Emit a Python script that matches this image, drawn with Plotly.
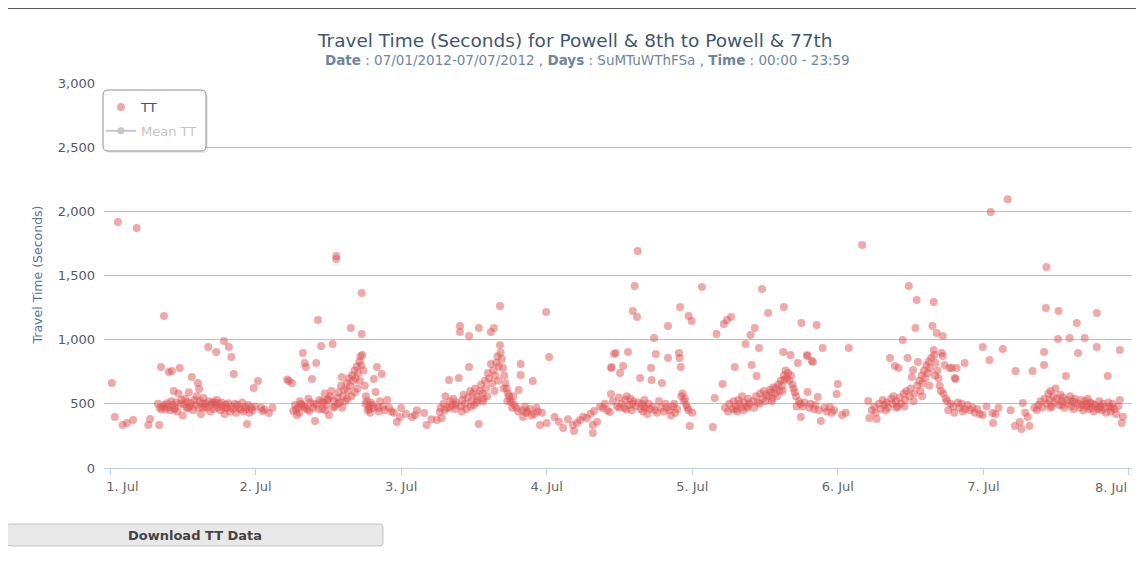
import pandas as pd
import plotly.graph_objects as go

# (hours after 1 Jul 2012 00:00, travel time in seconds)
jul1 = [
    (0.3, 662), (0.8, 397), (1.3, 1916), (2.1, 335), (2.8, 350), (3.8, 374), (4.4, 1870),
    (6.3, 335), (6.6, 382), (8.1, 335), (8.4, 787), (8.9, 1184), (9.7, 748), (10.2, 756),
    (11.5, 779), (13.5, 709), (14.5, 662), (14.7, 615), (16.2, 943), (17.5, 904),
    (18.8, 990), (19.6, 943), (20.0, 865), (20.4, 732), (22.6, 343), (23.7, 623),
    (7.9, 500), (8.2, 470), (8.5, 455), (8.7, 480), (9.0, 490), (9.2, 460), (9.4, 505),
    (9.6, 475), (9.9, 450), (10.1, 520), (10.3, 490), (10.5, 600), (10.7, 470), (10.9, 510),
    (11.1, 440), (11.3, 580), (11.6, 500), (11.8, 530), (12.0, 410), (12.2, 495), (12.4, 540),
    (12.6, 470), (12.8, 515), (13.0, 590), (13.2, 480), (13.4, 505), (13.7, 450), (13.9, 530),
    (14.1, 490), (14.3, 560), (14.6, 470), (14.8, 520), (15.0, 420), (15.2, 505), (15.4, 545),
    (15.6, 480), (15.8, 500), (16.0, 470), (16.3, 520), (16.5, 440), (16.7, 495), (16.9, 510),
    (17.1, 460), (17.4, 490), (17.6, 530), (17.8, 470), (18.0, 500), (18.2, 450), (18.4, 510),
    (18.6, 480), (18.9, 420), (19.1, 495), (19.3, 470), (19.5, 505), (19.8, 440), (20.1, 480),
    (20.3, 460), (20.6, 500), (20.8, 430), (21.0, 490), (21.3, 470), (21.5, 455), (21.8, 510),
    (22.0, 440), (22.3, 475), (22.5, 460), (22.8, 490), (23.0, 430), (23.3, 470), (23.5, 450),
    (23.9, 480), (10.6, 455), (12.9, 465), (15.3, 470), (17.2, 515), (19.0, 465),
]

jul2 = [
    (24.4, 678), (24.9, 470), (25.1, 444), (25.5, 455), (26.2, 428), (26.8, 470),
    (29.2, 690), (29.5, 678), (30.0, 662), (30.2, 444), (30.5, 491), (30.8, 413), (31.0, 470),
    (31.3, 520), (31.5, 500), (31.8, 896), (32.0, 480), (32.1, 818), (32.3, 787), (32.5, 455),
    (32.7, 540), (33.0, 510), (33.3, 693), (33.5, 470), (33.8, 366), (34.0, 818), (34.1, 495),
    (34.3, 1153), (34.5, 530), (34.8, 950), (35.0, 460), (35.2, 510), (35.4, 580), (35.6, 490),
    (35.8, 530), (36.1, 413), (36.3, 560), (36.5, 600), (36.7, 966), (36.9, 520), (37.1, 480),
    (37.3, 1651), (37.3, 1628), (37.5, 550), (37.7, 590), (37.9, 510), (38.1, 640), (38.2, 709),
    (38.4, 560), (38.6, 610), (38.8, 520), (39.0, 660), (39.2, 600), (39.4, 700), (39.6, 640),
    (39.7, 1090), (39.9, 720), (40.1, 680), (40.3, 760), (40.5, 700), (40.7, 790), (40.9, 740),
    (41.1, 830), (41.3, 870), (41.4, 800), (41.5, 1363), (41.5, 1044), (41.6, 880), (41.8, 760),
    (42.0, 640), (42.2, 560), (42.4, 520), (42.6, 480), (42.8, 460), (43.0, 510), (43.3, 490),
    (43.5, 693), (43.8, 592), (44.0, 787), (44.2, 470), (44.5, 520), (44.8, 732), (45.0, 480),
    (45.3, 450), (45.7, 530), (46.0, 470), (46.4, 440), (46.8, 430), (47.3, 358), (47.8, 397),
    (48.0, 467), (30.7, 455), (31.2, 430), (31.7, 490), (32.2, 470), (32.9, 445), (33.6, 500),
    (34.4, 460), (34.9, 520), (35.5, 450), (36.0, 540), (36.8, 470), (37.6, 500), (38.3, 470),
    (39.1, 540), (39.8, 560), (40.4, 590), (40.8, 620), (41.2, 680), (42.1, 500), (42.5, 450),
    (42.9, 430), (43.6, 470), (44.3, 440),
]

jul3 = [
    (48.8, 420), (49.8, 397), (50.3, 413), (50.6, 450), (51.8, 428), (52.2, 335), (53.0, 380),
    (53.9, 374), (54.4, 436), (54.5, 470), (54.7, 390), (55.0, 500), (55.3, 560), (55.6, 470),
    (55.9, 685), (56.1, 520), (56.4, 490), (56.6, 540), (56.9, 460), (57.1, 510), (57.5, 701),
    (57.7, 1106), (57.7, 1060), (57.9, 480), (58.1, 530), (58.3, 570), (58.5, 500), (58.8, 460),
    (59.0, 550), (59.2, 1028), (59.2, 787), (59.4, 600), (59.6, 520), (59.8, 580), (60.0, 490),
    (60.2, 620), (60.4, 560), (60.6, 530), (60.8, 1090), (60.8, 343), (61.0, 600), (61.2, 650),
    (61.4, 580), (61.6, 540), (61.8, 680), (62.0, 620), (62.3, 740), (62.5, 700), (62.8, 810),
    (62.8, 1060), (63.0, 660), (63.2, 760), (63.3, 1090), (63.5, 720), (63.7, 820), (63.9, 870),
    (64.1, 790), (64.3, 958), (64.3, 1262), (64.4, 900), (64.6, 850), (64.8, 780), (65.0, 720),
    (65.2, 660), (65.4, 620), (65.6, 580), (65.8, 560), (66.0, 530), (66.2, 510), (66.5, 560),
    (66.7, 490), (67.0, 470), (67.4, 608), (67.7, 810), (67.7, 724), (68.0, 450), (68.1, 397),
    (68.4, 480), (68.8, 440), (69.2, 460), (69.7, 678), (69.9, 420), (70.3, 470), (70.9, 335),
    (71.2, 430), (71.9, 1215), (72.0, 350), (55.2, 450), (56.0, 470), (57.0, 490), (58.0, 440),
    (59.5, 480), (60.5, 510), (61.5, 520), (62.2, 560), (63.4, 600), (64.0, 680), (64.9, 620),
    (65.5, 520), (66.3, 470), (67.3, 440), (68.6, 430), (69.5, 410), (70.5, 440),
]

jul4 = [
    (72.4, 865), (73.3, 397), (74.0, 360), (74.7, 312), (75.5, 380), (76.3, 335), (76.5, 288),
    (77.0, 350), (77.5, 374), (78.0, 400), (78.6, 390), (79.2, 420), (79.6, 335), (79.6, 273),
    (79.8, 444), (80.3, 358), (80.8, 480), (81.3, 467), (81.6, 500), (82.0, 450), (82.4, 436),
    (82.6, 779), (82.6, 576), (82.7, 787), (82.9, 520), (83.1, 888), (83.4, 896), (83.6, 480),
    (83.9, 550), (84.1, 740), (84.3, 500), (84.6, 795), (84.8, 470), (85.0, 530), (85.2, 560),
    (85.4, 903), (85.6, 490), (85.8, 540), (86.0, 450), (86.2, 1223), (86.3, 520), (86.5, 1418),
    (86.7, 480), (86.9, 1176), (87.0, 1690), (87.1, 510), (87.4, 701), (87.5, 460), (87.7, 500),
    (87.9, 440), (88.1, 530), (88.3, 470), (88.6, 420), (88.8, 500), (89.0, 460), (89.2, 779),
    (89.3, 685), (89.5, 480), (89.7, 1013), (90.0, 888), (90.2, 430), (90.5, 520), (90.8, 470),
    (91.0, 662), (91.3, 440), (91.6, 500), (92.0, 1106), (92.0, 857), (92.2, 450), (92.5, 410),
    (92.8, 480), (93.2, 430), (93.5, 460), (93.8, 896), (93.9, 857), (94.0, 1254), (94.1, 787),
    (94.2, 560), (94.4, 580), (94.6, 520), (94.8, 540), (95.0, 490), (95.2, 470), (95.4, 1184),
    (95.4, 450), (95.6, 327), (95.9, 1145), (96.0, 430), (84.0, 470), (85.1, 455), (86.1, 500),
    (88.0, 480), (89.8, 450), (91.8, 470), (93.0, 500),
]

jul5 = [
    (97.6, 1410), (99.4, 319), (99.7, 545), (100.0, 1044), (101.0, 654), (101.2, 1122),
    (101.4, 470), (101.7, 1153), (101.9, 440), (102.1, 500), (102.4, 1176), (102.6, 460),
    (102.8, 520), (103.0, 787), (103.2, 480), (103.4, 440), (103.6, 530), (103.8, 500),
    (104.0, 470), (104.2, 560), (104.4, 450), (104.6, 510), (104.8, 966), (105.0, 480),
    (105.2, 540), (105.4, 500), (105.6, 1036), (105.8, 802), (106.0, 520), (106.2, 470),
    (106.3, 1090), (106.5, 560), (106.6, 717), (106.8, 510), (107.0, 935), (107.2, 580),
    (107.5, 1394), (107.6, 540), (107.8, 600), (108.0, 520), (108.2, 570), (108.5, 1207),
    (108.6, 560), (108.8, 610), (109.0, 590), (109.2, 540), (109.4, 630), (109.6, 580),
    (109.8, 620), (110.0, 560), (110.2, 650), (110.4, 600), (110.6, 680), (110.8, 640),
    (111.0, 904), (111.1, 1254), (111.1, 720), (111.2, 690), (111.4, 760), (111.6, 700),
    (111.8, 740), (112.0, 680), (112.2, 880), (112.3, 720), (112.5, 650), (112.7, 620),
    (112.9, 590), (113.1, 560), (113.4, 818), (113.6, 520), (113.8, 500), (113.9, 397),
    (114.0, 1130), (114.2, 480), (114.5, 510), (114.9, 880), (115.0, 872), (115.0, 592),
    (115.3, 470), (115.5, 500), (115.7, 833), (115.9, 826), (116.1, 460), (116.3, 490),
    (116.5, 1114), (116.7, 553), (116.9, 450), (117.2, 366), (117.5, 935), (117.8, 470),
    (118.2, 440), (118.7, 475), (119.0, 430), (119.4, 450), (119.8, 576), (120.0, 654),
    (103.1, 455), (105.1, 470), (107.1, 500), (109.1, 520), (110.9, 600), (113.2, 480),
]

jul6 = [
    (120.7, 413), (121.3, 430), (121.8, 935), (124.0, 1737), (125.0, 522), (125.2, 390),
    (125.6, 450), (126.0, 480), (126.4, 382), (126.8, 500), (127.1, 460), (127.4, 530),
    (127.7, 490), (128.0, 510), (128.3, 470), (128.6, 857), (128.8, 540), (129.0, 500),
    (129.2, 560), (129.4, 795), (129.6, 520), (129.8, 480), (130.0, 779), (130.2, 550),
    (130.4, 500), (130.7, 997), (130.9, 580), (131.1, 530), (131.3, 600), (131.5, 857),
    (131.7, 1418), (131.8, 560), (132.0, 620), (132.2, 709), (132.4, 763), (132.6, 580),
    (132.8, 1090), (133.0, 1309), (133.1, 640), (133.2, 826), (133.4, 680), (133.6, 600),
    (133.8, 720), (134.0, 660), (134.2, 760), (134.4, 700), (134.6, 800), (134.8, 740),
    (135.0, 830), (135.2, 780), (135.4, 860), (135.6, 1106), (135.8, 1293), (135.8, 919),
    (135.9, 880), (136.1, 820), (136.3, 1052), (136.4, 760), (136.6, 700), (136.8, 640),
    (137.1, 896), (137.3, 1028), (137.3, 872), (137.4, 580), (137.6, 802), (137.8, 540),
    (138.0, 520), (138.4, 779), (138.6, 500), (138.8, 779), (139.0, 480), (139.3, 701),
    (139.4, 693), (139.6, 779), (139.8, 510), (140.1, 470), (140.4, 500), (140.9, 818),
    (141.0, 460), (141.4, 490), (141.8, 450), (142.2, 470), (142.6, 430), (143.0, 460),
    (143.4, 420), (143.9, 943), (143.9, 413), (126.2, 430), (127.9, 450), (129.7, 470),
    (131.0, 480), (132.5, 520), (133.9, 560), (135.1, 640), (136.0, 720), (137.0, 600),
    (138.2, 450), (139.2, 430), (140.6, 440),
]

jul7 = [
    (144.5, 480), (145.0, 841), (145.2, 1994), (145.5, 428), (145.6, 350), (146.0, 420),
    (146.5, 470), (147.2, 927), (148.0, 2095), (148.5, 450), (149.2, 327), (149.3, 756),
    (150.0, 358), (150.3, 304), (150.5, 506), (150.9, 430), (151.3, 397), (151.6, 327),
    (152.1, 756), (152.4, 470), (152.8, 452), (153.1, 490), (153.4, 520), (153.7, 470),
    (154.0, 904), (154.0, 802), (154.1, 540), (154.3, 1246), (154.4, 1566), (154.5, 500),
    (154.7, 580), (154.9, 530), (155.1, 600), (155.3, 480), (155.5, 560), (155.7, 510),
    (155.9, 620), (156.1, 540), (156.3, 1005), (156.4, 1223), (156.5, 490), (156.7, 570),
    (156.9, 520), (157.1, 550), (157.3, 470), (157.6, 717), (157.8, 530), (158.0, 500),
    (158.2, 1013), (158.3, 560), (158.5, 480), (158.7, 520), (158.9, 460), (159.1, 540),
    (159.4, 1130), (159.6, 896), (159.7, 500), (159.9, 470), (160.1, 530), (160.3, 490),
    (160.5, 450), (160.7, 1013), (160.8, 520), (161.0, 480), (161.2, 540), (161.4, 460),
    (161.6, 510), (161.8, 470), (162.0, 500), (162.2, 440), (162.4, 490), (162.7, 1207),
    (162.7, 943), (162.9, 460), (163.1, 520), (163.3, 480), (163.5, 450), (163.7, 500),
    (164.0, 470), (164.2, 430), (164.5, 717), (164.6, 510), (164.8, 480), (165.0, 440),
    (165.3, 500), (165.6, 460), (165.9, 420), (166.2, 480), (166.5, 919), (166.5, 530),
    (166.8, 350), (167.0, 400), (155.0, 470), (157.0, 490), (159.0, 510), (161.1, 500),
    (163.0, 470), (165.1, 470),
]

tick_dates = ["2012-07-01", "2012-07-02", "2012-07-03", "2012-07-04",
              "2012-07-05", "2012-07-06", "2012-07-07", "2012-07-08"]
tick_labels = ["1. Jul", "2. Jul", "3. Jul", "4. Jul", "5. Jul", "6. Jul", "7. Jul", "8. Jul"]

TITLE = "Travel Time (Seconds) for Powell & 8th to Powell & 77th"
SUBTITLE = ("<b>Date</b> : 07/01/2012-07/07/2012 , <b>Days</b> : SuMTuWThFSa , "
            "<b>Time</b> : 00:00 - 23:59")

FONT = "DejaVu Sans"
NB = "\u00a0"

points = jul1 + jul2 + jul3 + jul4 + jul5 + jul6 + jul7
hours = [p[0] for p in points]
tt = [p[1] for p in points]
start = pd.Timestamp("2012-07-01")
times = start + pd.to_timedelta(hours, unit="h")

# Highcharts pushes the outer labels inside the plot: pad the first one,
# and right-align the last one against its tick with an annotation below
shown_labels = list(tick_labels)
shown_labels[0] = NB * 6 + shown_labels[0]
shown_labels[-1] = ""


def px_x(page_x):
    # page pixel -> paper coordinate (plot area spans page x 104..1132)
    return (page_x - 104) / 1028


def px_y(page_y):
    # page pixel -> paper coordinate (plot area spans page y 83..468)
    return (468 - page_y) / 385


def rounded_rect(x0, y0, x1, y1, r):
    # pixel corners in, paper path out
    a, b, c, d = px_x(x0), px_y(y0), px_x(x1), px_y(y1)
    rx, ry = r / 1028, r / 385
    return (f"M{a + rx},{b} L{c - rx},{b} Q{c},{b} {c},{b - ry} "
            f"L{c},{d + ry} Q{c},{d} {c - rx},{d} L{a + rx},{d} "
            f"Q{a},{d} {a},{d + ry} L{a},{b - ry} Q{a},{b} {a + rx},{b} Z")


fig = go.Figure()
fig.add_scatter(
    x=times, y=tt, mode="markers", name="TT",
    marker=dict(size=8, color="rgba(223,83,83,0.5)", line=dict(width=0)),
    legendgroup="a",
)
fig.add_scatter(
    x=[None], y=[None], mode="lines+markers",
    name="<span style='color:#8a8a8a'>Mean TT</span>",
    line=dict(color="#909090", width=2), marker=dict(size=7, color="#909090"),
    visible="legendonly", legendgroup="b",
)

fig.update_layout(
    width=1128, height=549,
    margin=dict(l=96, r=4, t=75, b=89, autoexpand=False),
    plot_bgcolor="white", paper_bgcolor="white",
    font=dict(family=FONT, size=12, color="#3E576F"),
    showlegend=True,
    legend=dict(
        x=px_x(101), y=px_y(92), xanchor="left", yanchor="top",
        bgcolor="rgba(0,0,0,0)", borderwidth=0, itemwidth=30,
        font=dict(size=13, color="#3E576F"), tracegroupgap=4,
    ),
)

fig.update_xaxes(
    type="date", automargin=False,
    range=[start - pd.Timedelta(hours=0.99), start + pd.Timedelta(hours=168.5)],
    tickvals=tick_dates, ticktext=shown_labels,
    ticks="outside", ticklen=6, tickcolor="#C0D0E0",
    showline=True, linecolor="#C0D0E0", linewidth=1,
    showgrid=False, zeroline=False,
    tickfont=dict(family=FONT, size=13, color="#666666"),
)
fig.update_yaxes(
    range=[0, 3000], dtick=500, tickformat=",", automargin=False,
    showgrid=True, gridcolor="#C0C0C0", gridwidth=1,
    zeroline=False, showline=False, ticks="", ticklabelstandoff=8,
    tickfont=dict(family=FONT, size=13, color="#4d5b6e"),
)

fig.add_annotation(
    text=tick_labels[-1], xref="x", yref="paper", x=tick_dates[-1], y=px_y(478),
    xanchor="right", yanchor="top", showarrow=False,
    font=dict(family=FONT, size=13, color="#666666"),
)

# chart title, subtitle and y axis title
fig.add_annotation(
    text=TITLE, xref="paper", yref="paper", x=px_x(575), y=px_y(40),
    xanchor="center", yanchor="middle", showarrow=False,
    font=dict(family=FONT, size=18.5, color="#3E576F"),
)
fig.add_annotation(
    text=SUBTITLE, xref="paper", yref="paper", x=px_x(587), y=px_y(60),
    xanchor="center", yanchor="middle", showarrow=False,
    font=dict(family=FONT, size=13.5, color="#6D869F"),
)
fig.add_annotation(
    text="Travel Time (Seconds)", xref="paper", yref="paper", x=px_x(37), y=0.5,
    xanchor="center", yanchor="middle", textangle=-90, showarrow=False,
    font=dict(family=FONT, size=12.5, color="#4d759e"),
)

# page rule across the top
fig.add_shape(type="line", xref="paper", yref="paper",
              x0=px_x(0), x1=px_x(1144), y0=px_y(8), y1=px_y(8),
              line=dict(color="#5a5a5a", width=2))

# legend box with shadow
fig.add_shape(type="path", xref="paper", yref="paper", layer="above",
              path=rounded_rect(105, 92, 208, 153, 5),
              fillcolor="rgba(0,0,0,0.08)", line=dict(width=0))
fig.add_shape(type="path", xref="paper", yref="paper", layer="above",
              path=rounded_rect(103, 90, 206, 151, 5),
              fillcolor="white", line=dict(color="#909090", width=1))

# download button
fig.add_shape(type="path", xref="paper", yref="paper",
              path=rounded_rect(7, 524, 383, 546, 3),
              fillcolor="#e8e8e8", line=dict(color="#c4c4c4", width=1))
fig.add_annotation(
    text="<b>Download TT Data</b>", xref="paper", yref="paper",
    x=px_x(195), y=px_y(535), xanchor="center", yanchor="middle", showarrow=False,
    font=dict(family=FONT, size=13, color="#444444"),
)

fig.write_html("out.html")
